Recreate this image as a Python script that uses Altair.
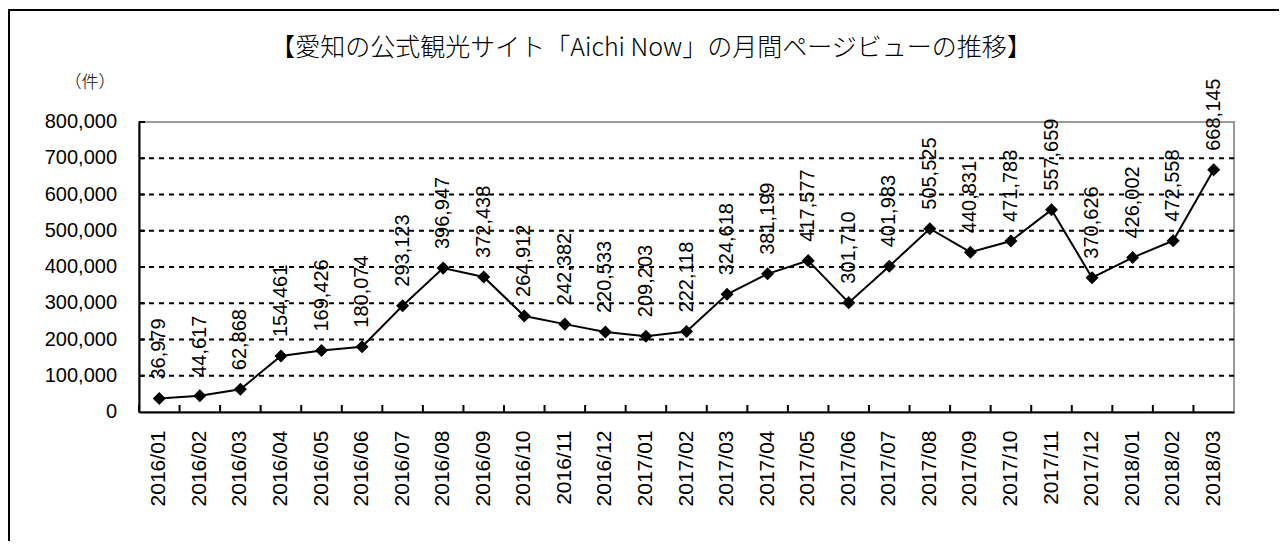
import altair as alt
import pandas as pd

months = [
    "2016/01", "2016/02", "2016/03", "2016/04", "2016/05", "2016/06",
    "2016/07", "2016/08", "2016/09", "2016/10", "2016/11", "2016/12",
    "2017/01", "2017/02", "2017/03", "2017/04", "2017/05", "2017/06",
    "2017/07", "2017/08", "2017/09", "2017/10", "2017/11", "2017/12",
    "2018/01", "2018/02", "2018/03",
]
views = [
    36979, 44617, 62868, 154461, 169426, 180074,
    293123, 396947, 372438, 264912, 242382, 220533,
    209203, 222118, 324618, 381199, 417577, 301710,
    401983, 505525, 440831, 471783, 557659, 370626,
    426002, 472558, 668145,
]
y_ticks = [0, 100000, 200000, 300000, 400000, 500000, 600000, 700000, 800000]
grid_values = [100000, 200000, 300000, 400000, 500000, 600000, 700000, 800000]
title_text = "【愛知の公式観光サイト「Aichi Now」の月間ページビューの推移】"
unit_text = "（件）"

df = pd.DataFrame({"month": months, "views": views})
tick_df = pd.DataFrame({"views": y_ticks})
grid_df = pd.DataFrame({"views": grid_values})
one = pd.DataFrame({"a": [0]})

NUM_FONT = "Liberation Sans"
JP_FONT = "Noto Sans CJK JP"

x_axis = alt.Axis(
    title=None, labelAngle=270, labelAlign="right", labelBaseline="middle",
    labelPadding=18, labelFontSize=21, labelFont=NUM_FONT, labelColor="black",
    ticks=False, domainColor="black", domainWidth=2, labelOverlap=False,
)
y_axis = alt.Axis(
    title=None, labels=False, ticks=False, grid=False,
    domainColor="black", domainWidth=2,
)
x_scale = alt.Scale(paddingInner=0, paddingOuter=0)
y_scale = alt.Scale(domain=[0, 800000], nice=False)

base = alt.Chart(df)

line = base.mark_line(color="black", strokeWidth=2).encode(
    x=alt.X("month:N", sort=months, scale=x_scale, axis=x_axis),
    y=alt.Y("views:Q", scale=y_scale, axis=y_axis),
)

frame = alt.Chart(one).mark_rect(
    fillOpacity=0, stroke="black", strokeWidth=2
).encode(x=alt.value(-130), x2=alt.value(1400), y=alt.value(-112), y2=alt.value(700))

grid = alt.Chart(grid_df).mark_rule(strokeWidth=2, strokeDash=[5, 5]).encode(
    y=alt.Y("views:Q"),
    x=alt.value(0), x2=alt.value(1095),
    color=alt.condition("datum.views == 800000", alt.value("#9a9a9a"), alt.value("black")),
)

ytick = alt.Chart(grid_df).mark_rule(color="black", strokeWidth=2).encode(
    y=alt.Y("views:Q"),
    x=alt.value(0), x2=alt.value(6),
)

ylabels = alt.Chart(tick_df).mark_text(
    align="right", baseline="middle", fontSize=20, font=NUM_FONT, color="black"
).encode(
    y=alt.Y("views:Q"),
    x=alt.value(-22),
    text=alt.Text("views:Q", format=","),
)

xtick = base.mark_rule(color="black", strokeWidth=2).encode(
    x=alt.X("month:N", sort=months, bandPosition=0),
    y=alt.value(290), y2=alt.value(283),
)

pts = base.mark_point(shape="diamond", filled=True, size=170, color="black", opacity=1).encode(
    x=alt.X("month:N", sort=months), y=alt.Y("views:Q")
)
labels = base.mark_text(
    angle=270, align="left", baseline="middle", dx=19, fontSize=20, font=NUM_FONT, color="black"
).encode(
    x=alt.X("month:N", sort=months), y=alt.Y("views:Q"),
    text=alt.Text("views:Q", format=","),
)

title = alt.Chart(one).mark_text(
    text=title_text, font=JP_FONT, fontSize=25, fontWeight=300, color="black",
    align="center", baseline="middle"
).encode(x=alt.value(512), y=alt.value(-74))

unit = alt.Chart(one).mark_text(
    text=unit_text, font=JP_FONT, fontSize=17, fontWeight=300, color="black",
    align="center", baseline="middle"
).encode(x=alt.value(-49), y=alt.value(-39))

chart = alt.layer(
    line, frame, grid, ytick, ylabels, xtick, pts, labels, title, unit
).properties(
    width=1095, height=290,
    autosize=alt.AutoSizeParams(type="none"),
    padding={"left": 131, "top": 114, "right": 45, "bottom": 129},
    background="white",
).configure_view(stroke="#9a9a9a", strokeWidth=2)

chart.save("out.html", embed_options={"renderer": "svg", "actions": False})
